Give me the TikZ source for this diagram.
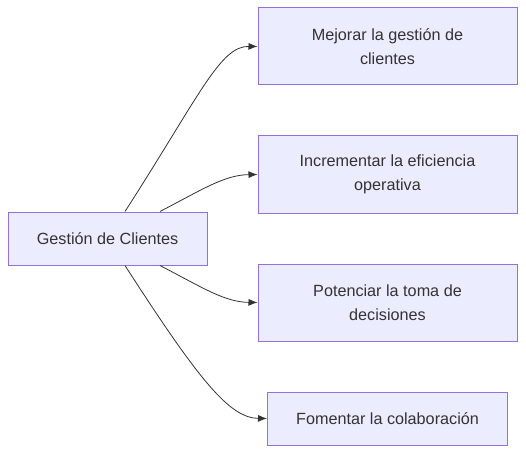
\documentclass[tikz,border=0pt]{standalone}
\usepackage{fontspec}
\setmainfont{Liberation Sans}
\usetikzlibrary{arrows.meta}
\definecolor{boxfill}{HTML}{ECECFF}
\definecolor{boxline}{HTML}{9370DB}
\definecolor{txtgray}{HTML}{333333}

\begin{document}
\begin{tikzpicture}[x=1pt, y=-1pt, >={Latex[length=9pt,width=7pt]},
    caja/.style={draw=boxline, fill=boxfill, line width=1pt, text=txtgray,
      font=\fontsize{16.2}{24}\selectfont, align=center, inner sep=0pt},
    flecha/.style={->, draw=txtgray, line width=0.8pt}]
    \useasboundingbox (0,0) rectangle (526,454);

    % Nodo central
    \node[caja, minimum width=199pt, minimum height=53pt] (gc) at (107.5,238.5) {Gestión de Clientes};

    % Objetivos
    \node[caja, minimum width=259pt, minimum height=77pt] (mej) at (387.5,46.5) {Mejorar la gestión de\\clientes};
    \node[caja, minimum width=259pt, minimum height=77pt] (inc) at (387.5,174.5) {Incrementar la eficiencia\\operativa};
    \node[caja, minimum width=259pt, minimum height=77pt] (pot) at (387.5,302.5) {Potenciar la toma de\\decisiones};
    \node[caja, minimum width=240pt, minimum height=53pt] (fom) at (387.5,418.5) {Fomentar la colaboración};

    % Conexiones
    \draw[flecha] ([xshift=17.5pt]gc.north) .. controls (200,95) and (220,46) .. (mej.west);
    \draw[flecha] ([xshift=52.5pt]gc.north) .. controls (205,188) and (225,175) .. (inc.west);
    \draw[flecha] ([xshift=52.5pt]gc.south) .. controls (205,289) and (225,302) .. (pot.west);
    \draw[flecha] ([xshift=17.5pt]gc.south) .. controls (200,382) and (230,418) .. (fom.west);
\end{tikzpicture}
\end{document}
